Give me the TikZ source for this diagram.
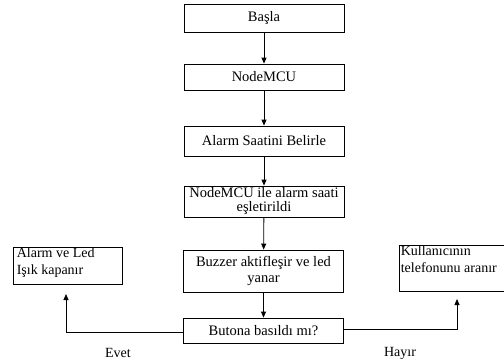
\documentclass[tikz,border=0pt]{standalone}
\usepackage{fontspec}
\setmainfont{Liberation Serif}
\usetikzlibrary{arrows.meta}
\begin{document}
\begin{tikzpicture}[x=1pt,y=-1pt,
  box/.style={draw=black,line width=0.8pt,inner sep=1pt,align=center,font=\fontsize{14.5}{14}\selectfont},
  sidebox/.style={draw=black,line width=0.8pt,inner sep=1pt},
  sidetext/.style={draw=none,inner sep=0pt,anchor=north west,align=left,font=\fontsize{14}{17}\selectfont},
  arr/.style={line width=0.8pt,-{Triangle[length=6pt,width=5pt]}},
  lbl/.style={font=\fontsize{14}{15}\selectfont}]
\useasboundingbox (0,0) rectangle (504,364);
\node[box,minimum width=160pt,minimum height=28pt] (s) at (264,18) {Başla};
\node[box,minimum width=160pt,minimum height=26pt] (n) at (264,77) {NodeMCU};
\node[box,minimum width=160pt,minimum height=30pt] (a) at (264,141) {Alarm Saatini Belirle};
\node[box,minimum width=160pt,minimum height=31pt] (e) at (264,201.5) {NodeMCU ile alarm saati\\eşletirildi};
\node[box,minimum width=160pt,minimum height=42pt,font=\fontsize{14.5}{16.5}\selectfont] (b) at (263.5,271) {Buzzer aktifleşir ve led\\yanar};
\node[box,minimum width=160pt,minimum height=25pt] (q) at (263.5,330.5) {Butona basıldı mı?};
\node[sidebox,minimum width=109pt,minimum height=37pt] (l) at (67.5,265.5) {};
\node[sidetext] (lt) at ([xshift=4pt,yshift=-1pt]l.north west) {Alarm ve Led\\Işık kapanır};
\node[sidebox,minimum width=107pt,minimum height=46pt] (r) at (452.5,268) {};
\node[sidetext] (rt) at ([xshift=2pt,yshift=-1pt]r.north west) {Kullanıcının\\telefonunu aranır};
\draw[arr] (s) -- (n);
\draw[arr] (n) -- (a);
\draw[arr] (a) -- (e);
\draw[arr] (e) -- (b);
\draw[arr] (b) -- (q);
\coordinate (lend) at (66,294);
\coordinate (rend) at (457,299);
\draw[arr] ([yshift=-1.5pt]q.west) -| (lend);
\draw[arr] ([yshift=1.5pt]q.east) -| (rend);
\node[lbl] (ev) at (118,353) {Evet};
\node[lbl] (hy) at (400,353) {Hayır};
\end{tikzpicture}
\end{document}
